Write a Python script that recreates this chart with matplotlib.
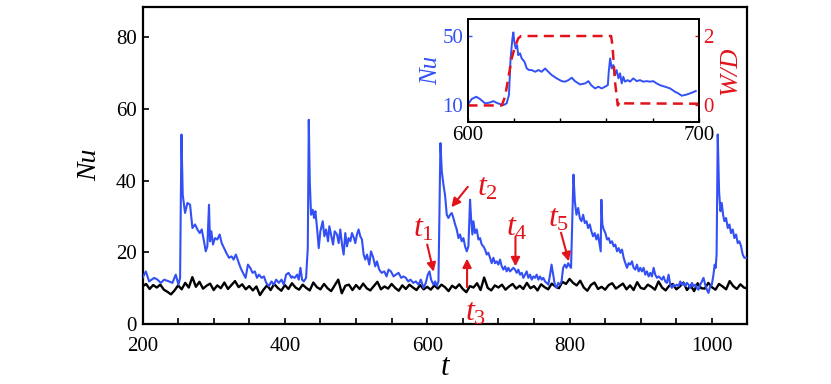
import numpy as np
import matplotlib.pyplot as plt
from matplotlib.ticker import MultipleLocator, FixedLocator

plt.rcParams['font.family'] = ['Liberation Serif', 'DejaVu Serif']
plt.rcParams['mathtext.fontset'] = 'custom'
plt.rcParams['mathtext.rm'] = 'Liberation Serif'
plt.rcParams['mathtext.it'] = 'Liberation Serif:italic'

BLUE = '#3350f5'
RED = '#e3131b'

# ---- main Nu series (blue)
t_nu = [200.0, 204.7, 209.3, 216.4, 221.0, 225.7, 230.4, 237.4, 242.0, 246.7, 250.5, 252.8,
        254.7, 256.5, 259.8, 263.1, 266.8, 270.1, 273.8, 277.1, 280.4, 283.2, 286.4, 288.8,
        291.1, 293.4, 294.8, 296.7, 299.0, 301.8, 305.1, 308.4, 311.2, 314.5, 317.7, 321.5,
        325.2, 327.9, 331.2, 334.5, 337.8, 341.1, 344.8, 348.1, 351.4, 354.6, 357.9, 360.8,
        363.6, 367.3, 370.6, 373.8, 377.5, 381.3, 384.5, 387.8, 391.5, 395.3, 398.5, 401.8,
        405.2, 409.3, 410.2, 413.9, 417.2, 419.5, 421.9, 424.2, 426.6, 429.8, 432.2, 433.6,
        435.0, 436.8, 439.2, 441.0, 442.9, 445.2, 447.6, 449.9, 453.2, 455.5, 457.9, 460.7,
        462.5, 465.3, 467.7, 470.0, 473.3, 475.6, 477.9, 480.3, 482.6, 484.9, 487.3, 489.6,
        492.0, 494.3, 497.1, 499.0, 501.3, 503.6, 506.0, 508.3, 510.7, 513.0, 515.4, 518.6,
        521.0, 524.2, 527.0, 529.4, 532.6, 535.9, 539.7, 542.9, 545.7, 549.0, 552.7, 556.0,
        559.7, 563.5, 566.7, 570.0, 573.3, 576.6, 580.3, 584.0, 587.8, 591.0, 594.8, 598.0,
        600.8, 603.2, 605.5, 608.8, 611.1, 613.4, 615.8, 617.2, 618.6, 620.5, 622.8, 625.0,
        627.5, 629.8, 632.2, 634.5, 636.8, 639.2, 641.5, 643.9, 646.2, 648.5, 650.9, 653.2,
        655.6, 657.9, 660.2, 661.6, 663.5, 664.9, 667.2, 669.6, 671.9, 674.2, 676.6, 678.9,
        681.3, 683.6, 685.9, 688.3, 690.6, 693.0, 695.3, 697.6, 700.0, 702.3, 704.7, 707.0,
        709.4, 711.7, 714.0, 716.4, 718.7, 721.0, 723.4, 725.8, 728.1, 730.4, 732.8, 735.1,
        737.5, 739.8, 742.1, 744.5, 746.8, 749.2, 751.5, 753.8, 756.2, 758.5, 760.9, 763.2,
        765.5, 767.9, 770.2, 772.6, 774.7, 777.0, 779.3, 781.7, 784.0, 786.3, 788.7, 791.0,
        793.4, 795.7, 798.1, 800.4, 802.1, 805.5, 807.4, 809.7, 812.1, 814.4, 816.7, 819.1,
        821.4, 823.8, 826.1, 828.4, 830.7, 833.0, 835.4, 837.7, 840.0, 843.8, 844.7, 846.1,
        848.0, 850.3, 852.7, 855.0, 857.3, 859.7, 862.0, 864.3, 866.7, 869.0, 871.4, 873.7,
        876.0, 878.4, 880.7, 883.0, 885.4, 887.7, 890.0, 892.4, 894.7, 897.1, 899.4, 901.7,
        904.1, 906.4, 908.7, 911.1, 913.4, 915.8, 918.1, 920.4, 922.8, 925.1, 927.4, 929.8,
        932.1, 934.5, 936.8, 939.1, 941.5, 943.8, 946.1, 948.5, 950.8, 953.2, 955.5, 957.8,
        960.2, 962.5, 964.8, 967.2, 969.5, 971.9, 974.2, 976.5, 978.9, 981.2, 983.6, 985.9,
        988.2, 990.6, 992.9, 995.2, 997.6, 999.9, 1002.2, 1003.9, 1005.3, 1006.6, 1008.2,
        1010.1, 1012.0, 1013.8, 1015.7, 1017.6, 1019.9, 1022.3, 1024.6, 1026.9, 1029.3,
        1031.6, 1034.0, 1036.3, 1038.6, 1041.0, 1043.3, 1045.6, 1048.0]
nu = [12.9, 14.7, 11.9, 12.9, 12.4, 11.5, 12.4, 11.9, 11.5, 13.8, 11.0, 12.9,
      52.9, 36.1, 31.0, 33.8, 33.3, 26.8, 27.8, 26.4, 25.4, 26.4, 23.1, 20.3,
      21.7, 33.3, 23.1, 25.9, 22.2, 24.0, 23.6, 25.0, 22.6, 21.2, 19.9, 18.5,
      18.9, 18.0, 19.4, 17.5, 15.7, 14.3, 12.9, 16.6, 15.7, 14.3, 14.7, 12.9,
      13.8, 12.9, 13.3, 11.5, 10.6, 11.9, 11.0, 12.4, 11.5, 12.4, 11.0, 13.8,
      14.3, 12.9, 13.3, 12.9, 13.8, 12.4, 15.7, 12.4, 11.9, 12.9, 21.2, 57.0,
      39.8, 30.5, 31.9, 29.6, 31.5, 26.8, 21.2, 25.9, 28.7, 24.5, 26.4, 23.1,
      27.3, 24.5, 22.2, 25.9, 25.0, 22.6, 26.4, 22.2, 19.4, 25.4, 21.7, 24.0,
      23.1, 25.4, 24.0, 22.6, 25.0, 26.4, 24.5, 23.6, 19.4, 18.0, 19.4, 16.6,
      20.3, 18.5, 16.1, 17.5, 15.2, 14.3, 14.7, 13.3, 15.2, 14.7, 13.3, 13.8,
      14.3, 12.9, 13.3, 12.9, 11.9, 12.4, 11.5, 11.9, 11.0, 12.4, 10.1, 11.5,
      13.8, 14.7, 12.4, 11.0, 11.9, 10.6, 11.9, 30.5, 50.5, 42.6, 38.9, 36.1,
      30.5, 29.6, 30.5, 31.0, 29.6, 27.8, 26.4, 24.0, 25.0, 23.1, 24.0, 21.7,
      20.3, 21.7, 34.7, 29.6, 25.0, 28.7, 25.4, 26.4, 23.6, 24.0, 22.2, 21.7,
      20.8, 19.4, 19.9, 18.5, 17.0, 18.5, 17.0, 17.5, 16.6, 18.0, 16.1, 15.2,
      16.1, 14.7, 15.7, 14.7, 15.2, 15.7, 15.2, 14.3, 15.2, 13.8, 14.3, 12.9,
      13.8, 14.7, 12.9, 13.8, 12.4, 13.3, 12.9, 13.8, 12.4, 13.3, 12.4, 12.9,
      11.9, 11.5, 11.0, 13.8, 16.6, 13.8, 11.0, 10.1, 11.5, 11.0, 11.9, 15.7,
      16.6, 15.7, 17.0, 16.1, 15.7, 41.7, 34.3, 30.5, 32.4, 29.6, 28.7, 30.5,
      28.2, 28.7, 26.8, 27.8, 25.9, 24.5, 25.4, 23.6, 25.0, 20.3, 34.7, 27.8,
      26.4, 25.4, 23.6, 24.0, 22.6, 23.1, 21.7, 22.2, 20.3, 21.2, 19.9, 20.8,
      18.5, 17.0, 15.7, 17.0, 16.6, 17.5, 15.7, 15.2, 16.6, 14.7, 15.7, 14.7,
      15.7, 13.8, 14.7, 13.3, 14.3, 13.3, 15.7, 13.8, 12.9, 13.3, 12.9, 12.4,
      13.3, 11.9, 11.5, 13.8, 11.0, 10.1, 11.0, 10.6, 11.0, 10.6, 11.9, 11.0,
      11.5, 10.6, 11.5, 11.0, 10.1, 11.5, 10.6, 11.0, 10.1, 9.6, 11.0, 11.9,
      12.9, 11.0, 9.6, 8.7, 10.6, 11.0, 13.8, 16.6, 15.7, 19.4, 52.9,
      37.0, 31.5, 33.8, 30.5, 28.7, 29.6, 26.8, 27.8, 25.4, 26.4,
      24.0, 25.0, 22.6, 23.1, 21.7, 19.4, 18.5, 18.5]
n_min = min(len(t_nu), len(nu))
t_nu, nu = t_nu[:n_min], nu[:n_min]

# ---- reference run (black), every 5 time units from 200 to 1050
t_ref = np.arange(200, 1051, 5)
nu_ref = [10.5, 11.2, 9.8, 10.9, 10.2, 11.0, 9.6, 9.0, 8.3, 9.4,
          10.8, 9.7, 11.5, 10.2, 13.1, 10.4, 11.8, 9.9, 10.7, 11.3,
          9.5, 10.8, 10.0, 11.6, 9.8, 10.9, 12.0, 10.3, 11.1, 9.7,
          10.6, 9.4, 10.5, 8.1, 9.6, 10.8, 9.5, 11.2, 10.1, 9.3,
          10.9, 9.8, 11.4, 10.2, 9.6, 11.0, 10.1, 9.4, 11.6, 10.3,
          9.7, 11.2, 10.0, 9.2, 10.8, 12.4, 8.6, 10.7, 11.0, 9.5,
          10.9, 9.8, 11.3, 10.0, 9.4, 10.6, 11.8, 9.7, 10.5, 9.9,
          11.2, 10.1, 9.3, 10.8, 9.8, 11.0, 10.2, 9.5, 10.9, 9.7,
          10.4, 9.6, 10.8, 9.9, 11.0, 10.3, 9.2, 10.7, 10.0, 11.1,
          9.8, 8.9, 10.6, 10.2, 11.4, 9.5, 13.0, 10.1, 9.4, 10.8,
          10.2, 11.0, 9.6, 10.5, 11.2, 9.9, 10.7, 9.8, 11.5, 10.0,
          10.6, 9.4, 11.1, 10.3, 9.7, 11.3, 10.5, 10.0, 11.8, 11.2,
          12.6, 11.5, 10.8, 12.1, 10.2, 9.3, 10.9, 11.6, 9.8, 10.4,
          9.6, 10.9, 11.4, 9.9, 10.6, 11.3, 9.7, 10.8, 9.5, 11.7,
          10.1, 9.8, 11.0, 10.4, 9.6, 11.9, 10.2, 9.4, 10.7, 11.2,
          9.7, 10.5, 11.6, 9.5, 10.8, 9.2, 11.4, 10.0, 9.9, 11.5,
          10.3, 9.6, 11.2, 10.5, 9.7, 12.0, 10.6, 9.8, 11.1, 10.2,
          9.9]

# ---- inset: Nu and W/D between t=600 and 700
t_in = [600.0, 601.8, 603.8, 605.4, 607.6, 609.7, 611.2, 612.6, 614.0, 615.5, 616.9, 617.9,
        618.6, 619.4, 619.8, 620.2, 620.8, 621.4, 621.9, 622.7, 623.4, 624.6, 625.6, 626.6,
        627.7, 629.2, 630.6, 632.0, 633.5, 634.9, 636.4, 638.5, 640.7, 642.1, 643.6, 645.0,
        646.4, 648.6, 650.8, 652.2, 653.4, 655.1, 656.5, 658.0, 659.4, 660.6, 661.0, 661.6,
        662.3, 663.0, 663.7, 664.4, 665.2, 665.9, 666.6, 667.3, 668.0, 669.2, 670.2, 671.6,
        673.1, 674.5, 675.9, 677.4, 678.8, 680.2, 681.7, 683.1, 685.3, 687.5, 689.6, 691.1,
        692.5, 694.7, 696.8, 698.6]
nu_in = [10.2, 13.7, 15.0, 13.7, 11.2, 11.7, 12.5, 11.5, 10.8, 10.2, 11.2, 16.0,
         37.1, 48.7, 52.1, 46.7, 42.9, 44.8, 39.0, 40.0, 37.1, 35.2, 31.3, 30.4,
         30.4, 29.4, 30.4, 29.4, 31.3, 29.4, 27.5, 25.6, 24.0, 23.7, 24.6, 26.0,
         24.0, 22.1, 22.7, 24.0, 21.7, 19.8, 20.8, 19.8, 20.8, 21.7, 29.4, 37.1,
         31.3, 33.3, 27.5, 30.4, 25.6, 28.5, 22.7, 26.5, 23.7, 24.6, 23.7, 25.6,
         24.0, 24.6, 23.7, 24.0, 23.7, 24.0, 22.7, 21.7, 20.8, 19.8, 17.9, 16.9,
         15.6, 16.3, 17.3, 18.3]
t_wd = [600.0, 614.8, 616.2, 617.6, 619.1, 620.5, 621.9, 623.1, 662.0, 662.6, 663.7,
        664.9, 665.9, 668.0, 700.0]
wd = [0.0, 0.0, 0.25, 0.78, 1.36, 1.69, 1.93, 2.0, 2.0, 1.74, 0.68,
      0.0, 0.12, 0.06, 0.05]

# ---- arrow annotations: (label, tip, tail, label position)
marks = [
    (r'$t_{\mathit{1}}$', (609, 14.6), (600, 22.2), (594, 26.5)),
    (r'$t_{\mathit{2}}$', (634, 32.6), (657, 38.3), (685, 38.0)),
    (r'$t_{\mathit{3}}$', (656, 18.3), (656, 10.3), (668, 3.0)),
    (r'$t_{\mathit{4}}$', (724, 16.1), (724, 24.4), (726, 26.8)),
    (r'$t_{\mathit{5}}$', (799, 17.5), (788, 25.5), (784, 29.2)),
]

fig = plt.figure(figsize=(8.31, 3.84), dpi=100)
ax = fig.add_axes([0.1715, 0.156, 0.728, 0.827])

ax.plot(t_ref, nu_ref, color='black', lw=1.7, zorder=2)
ax.plot(t_nu, nu, color=BLUE, lw=1.5, zorder=3)

ax.set_xlim(200, 1050)
ax.set_ylim(0, 88.6)
ax.xaxis.set_major_locator(MultipleLocator(200))
ax.xaxis.set_minor_locator(MultipleLocator(50))
ax.yaxis.set_major_locator(MultipleLocator(20))
ax.tick_params(which='both', direction='in', length=4, width=1.2, labelsize=15,
               top=False, right=False)
ax.tick_params(axis='x', pad=9)
ax.tick_params(axis='y', pad=4)
for s in ax.spines.values():
    s.set_linewidth(1.6)

ax.set_xlabel('t', fontsize=22, fontstyle='italic', labelpad=-2)
ax.set_ylabel('Nu', fontsize=20, fontstyle='italic', labelpad=10)

for lab, tip, tail, pos in marks:
    ax.annotate('', xy=tip, xytext=tail,
                arrowprops=dict(arrowstyle='-|>', color=RED, lw=1.5,
                                mutation_scale=13, shrinkA=0, shrinkB=0),
                zorder=5)
    ax.text(pos[0], pos[1], lab, color=RED, fontsize=23, ha='center', va='center', zorder=5)

# ---- inset
ins = fig.add_axes([0.5626, 0.682, 0.2786, 0.2685])
ins.plot(t_in, nu_in, color=BLUE, lw=1.4)
ins.set_xlim(600, 700)
ins.set_ylim(0.4, 59.8)
ins.xaxis.set_major_locator(FixedLocator([600, 700]))
ins.xaxis.set_minor_locator(MultipleLocator(20))
ins.yaxis.set_major_locator(FixedLocator([10, 50]))
ins.tick_params(which='both', direction='in', length=3, width=1.0, labelsize=15)
ins.tick_params(axis='y', colors=BLUE, labelsize=15, pad=3)
ins.tick_params(axis='x', pad=3)
ins.set_ylabel('Nu', color=BLUE, fontsize=18, fontstyle='italic', labelpad=0)
for s in ins.spines.values():
    s.set_linewidth(1.3)

ins2 = ins.twinx()
ins2.plot(t_wd, wd, color=RED, lw=1.8, ls=(0, (4, 2.5)))
ins2.set_ylim(-0.48, 2.49)
ins2.yaxis.set_major_locator(FixedLocator([0, 2]))
ins2.tick_params(axis='y', direction='in', length=3, width=1.0, colors=RED,
                 labelsize=15, pad=3)
ins2.set_ylabel('W/D', color=RED, fontsize=19, fontstyle='italic', labelpad=4)
for s in ins2.spines.values():
    s.set_linewidth(1.3)
ins2.spines['right'].set_color('black')
ins.spines['left'].set_color('black')

fig.savefig('out.png', dpi=100)
